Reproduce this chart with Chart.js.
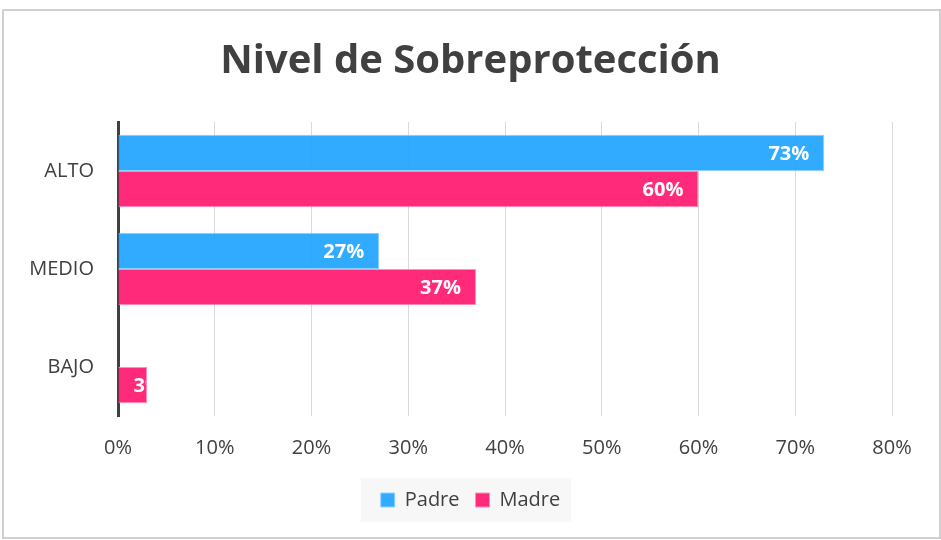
<!DOCTYPE html>
<html>
<head>
<meta charset="utf-8">
<script src="https://cdn.jsdelivr.net/npm/chart.js@4"></script>
<style>
  html, body { margin: 0; padding: 0; background: #ffffff; }
  #wrap { width: 941px; height: 540px; position: relative; }
</style>
</head>
<body>
<div id="wrap"><canvas id="c" width="941" height="540"></canvas></div>
<script>
const titleText = 'Nivel de Sobreprotección';
const categories = ['ALTO', 'MEDIO', 'BAJO'];
const padreValues = [73, 27, 0];
const madreValues = [60, 37, 3];
const xTicks = [0, 10, 20, 30, 40, 50, 60, 70, 80];

const BLUE = 'rgba(38,166,255,0.95)';
const BLUE_BORDER = '#8fd0ff';
const PINK = 'rgba(255,36,118,0.97)';
const PINK_BORDER = '#ff8fb8';

const frameAndLegendBg = {
  id: 'frameAndLegendBg',
  beforeDraw(chart) {
    const ctx = chart.ctx;
    ctx.save();
    ctx.fillStyle = '#ffffff';
    ctx.fillRect(0, 0, chart.width, chart.height);
    ctx.strokeStyle = '#d0d0d0';
    ctx.lineWidth = 2;
    ctx.strokeRect(3, 10, 937, 528);
    const lg = chart.legend;
    if (lg && lg.legendHitBoxes && lg.legendHitBoxes.length) {
      const hb = lg.legendHitBoxes;
      const l = Math.min(...hb.map(h => h.left)) - 20;
      const r = Math.max(...hb.map(h => h.left + h.width)) + 11;
      const cy = hb[0].top + hb[0].height / 2;
      ctx.fillStyle = '#f7f7f7';
      ctx.fillRect(l, cy - 22, r - l, 44);
    }
    ctx.restore();
  }
};

const valueLabels = {
  id: 'valueLabels',
  afterDatasetsDraw(chart) {
    const ctx = chart.ctx;
    ctx.save();
    ctx.font = 'bold 20px "Open Sans"';
    ctx.fillStyle = '#ffffff';
    ctx.textBaseline = 'middle';
    chart.data.datasets.forEach((ds, di) => {
      const meta = chart.getDatasetMeta(di);
      meta.data.forEach((bar, i) => {
        const v = ds.data[i];
        if (!v) return;
        const txt = v + '%';
        const w = ctx.measureText(txt).width;
        const left = bar.base;
        const right = bar.x;
        const top = bar.y - bar.height / 2;
        let x = right - 15 - w;
        if (x < left + 15) x = left + 15;
        ctx.save();
        ctx.beginPath();
        ctx.rect(left, top, right - left - 1, bar.height);
        ctx.clip();
        ctx.textAlign = 'left';
        ctx.fillText(txt, x, bar.y + 1);
        ctx.restore();
      });
    });
    ctx.restore();
  }
};

new Chart(document.getElementById('c'), {
  type: 'bar',
  data: {
    labels: categories,
    datasets: [
      { label: 'Padre', data: padreValues, backgroundColor: BLUE, borderColor: BLUE_BORDER, borderWidth: 1, borderSkipped: 'left' },
      { label: 'Madre', data: madreValues, backgroundColor: PINK, borderColor: PINK_BORDER, borderWidth: 1, borderSkipped: 'left' }
    ]
  },
  options: {
    indexAxis: 'y',
    responsive: false,
    animation: false,
    devicePixelRatio: 1,
    layout: { padding: { left: 0, right: 0, top: 0, bottom: 20 } },
    datasets: { bar: { categoryPercentage: 0.74, barPercentage: 1.0 } },
    scales: {
      x: {
        min: 0, max: 80,
        afterBuildTicks(scale) { scale.ticks = xTicks.map(v => ({ value: v })); },
        afterFit(scale) { scale.height = 58; },
        ticks: {
          callback: v => v + '%',
          color: '#404040',
          font: { family: '"Open Sans"', size: 20 },
          padding: 20
        },
        grid: { color: '#d9d9d9', lineWidth: 1, drawTicks: false },
        border: { display: false }
      },
      y: {
        afterFit(scale) { scale.width = 118; },
        ticks: {
          color: '#404040',
          font: { family: '"Open Sans"', size: 20 },
          padding: 24
        },
        grid: { display: false, drawTicks: false },
        border: { display: true, color: '#404040', width: 3 }
      },
      yRightGap: {
        type: 'linear',
        position: 'right',
        display: true,
        afterFit(scale) { scale.width = 49; },
        ticks: { display: false },
        grid: { display: false, drawTicks: false },
        border: { display: false }
      }
    },
    plugins: {
      title: {
        display: true,
        text: titleText,
        color: '#404040',
        font: { family: '"Open Sans"', size: 40, weight: 'bold' },
        padding: { top: 38, bottom: 36 }
      },
      legend: {
        position: 'bottom',
        labels: {
          color: '#404040',
          font: { family: '"Open Sans"', size: 20 },
          boxWidth: 14,
          boxHeight: 14,
          padding: 16
        }
      },
      tooltip: { enabled: false }
    }
  },
  plugins: [frameAndLegendBg, valueLabels]
});
</script>
</body>
</html>
